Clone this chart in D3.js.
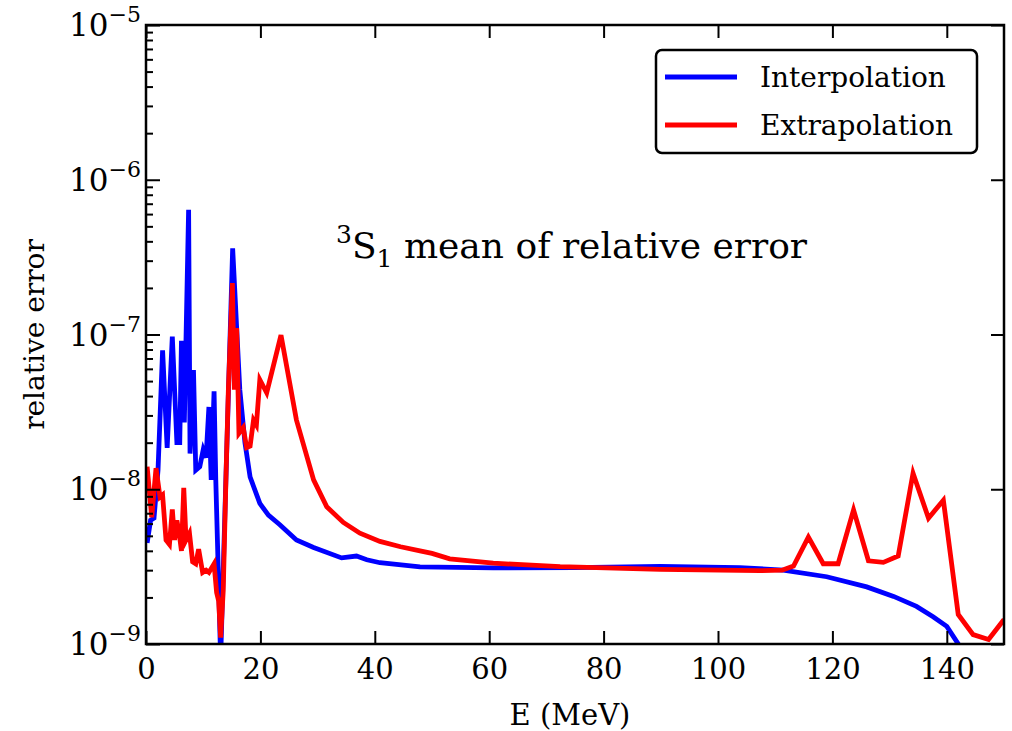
<!DOCTYPE html>
<html><head><meta charset="utf-8">
<script src="https://cdn.jsdelivr.net/npm/d3@7"></script>
<style>body{margin:0;background:#fff}svg{display:block}</style>
</head><body>
<svg id="c" width="1012" height="731"></svg>
<script>
const interpE   = [0.2,0.8,1.4,2.1,2.9,3.7,4.6,5.4,5.9,6.2,6.7,7.45,7.7,8.3,8.7,9.4,10.0,10.5,11.0,11.4,11.9,12.2,13.05,15.15,15.85,16.4,17.3,18.2,19.9,21.4,23.4,26.3,29.3,34.2,36.8,38.6,40.9,47.9,60.7,75,89.9,103.8,111.4,119,126,130.7,134.7,137.6,140,142,144];
const interpErr = [4.5e-9,6.3e-9,6.5e-9,1.33e-8,7.9e-8,1.85e-8,9.7e-8,2.0e-8,2.0e-8,9.1e-8,2.7e-8,6.4e-7,1.7e-8,5.9e-8,1.33e-8,1.4e-8,1.8e-8,1.6e-8,3.4e-8,1.15e-8,4.3e-8,1.15e-8,8e-10,3.6e-7,1.1e-7,4.4e-8,2.0e-8,1.2e-8,8.1e-9,6.8e-9,5.9e-9,4.7e-9,4.2e-9,3.6e-9,3.7e-9,3.5e-9,3.35e-9,3.15e-9,3.1e-9,3.12e-9,3.17e-9,3.12e-9,3.0e-9,2.72e-9,2.34e-9,2.03e-9,1.75e-9,1.5e-9,1.3e-9,1.0e-9,7e-10];
const extrapE   = [0.2,1.0,1.75,2.45,2.9,3.5,4.1,4.6,5.0,5.4,5.8,6.2,6.6,7.0,7.6,8.15,8.7,9.2,9.9,10.5,11.0,11.9,12.35,12.7,13.05,13.5,14.0,14.4,15.1,15.45,15.85,16.25,17.0,17.6,18.2,18.8,19.3,19.9,21.1,23.6,26.3,29.3,31.6,34.5,37.4,40.9,44.5,47.9,50.0,53.1,60.7,72.4,89.9,107.3,111.2,113.2,115.8,118.4,121.0,123.7,126.3,128.9,131.5,134.1,136.8,139.4,142,144.6,147.3,150];
const extrapErr = [1.4e-8,6.6e-9,1.37e-8,8.9e-9,9.2e-9,4.7e-9,4.4e-9,7.4e-9,4.7e-9,6.3e-9,5.2e-9,4.0e-9,1.02e-8,4.7e-9,5.2e-9,3.4e-9,3.3e-9,4.1e-9,2.9e-9,3.0e-9,2.9e-9,3.3e-9,2.15e-9,1.9e-9,1.1e-9,2.2e-9,1.27e-8,4.4e-8,2.15e-7,4.4e-8,1.1e-7,2.3e-8,2.5e-8,1.86e-8,1.9e-8,2.8e-8,2.6e-8,5.1e-8,4.2e-8,9.9e-8,2.8e-8,1.15e-8,7.7e-9,6.1e-9,5.2e-9,4.6e-9,4.25e-9,4.0e-9,3.85e-9,3.55e-9,3.33e-9,3.16e-9,3.04e-9,2.98e-9,3.0e-9,3.19e-9,4.9e-9,3.3e-9,3.3e-9,7.35e-9,3.45e-9,3.37e-9,3.7e-9,1.27e-8,6.5e-9,8.5e-9,1.55e-9,1.15e-9,1.07e-9,1.44e-9];
const xTicks = [0,20,40,60,80,100,120,140];
const yTickExps = [-9,-8,-7,-6,-5];
const seriesNames = ["Interpolation","Extrapolation"];
const seriesColors = ["#0000ff","#ff0000"];

const FONT = "'DejaVu Serif', serif";
const L=146,R=1004,T=25,B=644;
const svg = d3.select("#c");
const x = d3.scaleLinear().domain([0,150]).range([L,R]);
const y = d3.scaleLog().domain([1e-9,1e-5]).range([B,T]);

svg.append("defs").append("clipPath").attr("id","clip")
  .append("rect").attr("x",L).attr("y",T).attr("width",R-L).attr("height",B-T);

const line = d3.line().x(d=>x(d[0])).y(d=>y(d[1]));
const series = [d3.zip(interpE, interpErr), d3.zip(extrapE, extrapErr)];
const g = svg.append("g").attr("clip-path","url(#clip)");
series.forEach((s,i)=>{
  g.append("path").datum(s).attr("d",line).attr("fill","none")
   .attr("stroke",seriesColors[i]).attr("stroke-width",4.8).attr("stroke-linejoin","miter");
});

// axes (ticks inward)
const axB = d3.axisBottom(x).tickValues(xTicks).tickSize(-13).tickPadding(14).tickFormat(d3.format("d"));
const axT = d3.axisTop(x).tickValues(xTicks).tickSize(-13).tickFormat("");
const majors = yTickExps.map(e=>Math.pow(10,e));
const minors = [];
for (let e=-9;e<-5;e++) for (let m=2;m<=9;m++) minors.push(m*Math.pow(10,e));
const axL = d3.axisLeft(y).tickValues(majors).tickSize(-14).tickFormat("");
const axLm = d3.axisLeft(y).tickValues(minors).tickSize(-7).tickFormat("");
const axR = d3.axisRight(y).tickValues(majors).tickSize(-13).tickFormat("");

function style(sel){
  sel.select(".domain").remove();
  sel.selectAll(".tick line").attr("stroke","#000").attr("stroke-width",2);
  sel.selectAll("text").attr("font-family",FONT).attr("font-size",29).attr("fill","#000");
}
svg.append("g").attr("transform",`translate(0,${B})`).call(axB).call(style)
   .selectAll("text").attr("dy","0.71em");
svg.append("g").attr("transform",`translate(0,${T})`).call(axT).call(style);
svg.append("g").attr("transform",`translate(${L},0)`).call(axL).call(style);
svg.append("g").attr("transform",`translate(${L},0)`).call(axLm).call(style);
svg.append("g").attr("transform",`translate(${R},0)`).call(axR).call(style);

// y tick labels 10^k
yTickExps.forEach(e=>{
  const t = svg.append("text").attr("x",L-5).attr("y",y(Math.pow(10,e))+11)
    .attr("text-anchor","end").attr("font-family",FONT).attr("font-size",31);
  t.append("tspan").text("10");
  t.append("tspan").attr("dy",-14).attr("font-size",22).text("\u2212"+Math.abs(e));
});

// frame
svg.append("rect").attr("x",L).attr("y",T).attr("width",R-L).attr("height",B-T)
  .attr("fill","none").attr("stroke","#000").attr("stroke-width",2.5);

// axis labels
svg.append("text").attr("x",570).attr("y",725).attr("text-anchor","middle")
  .attr("font-family",FONT).attr("font-size",29).text("E (MeV)");
svg.append("text").attr("transform",`translate(44,${(T+B)/2}) rotate(-90)`)
  .attr("text-anchor","middle").attr("font-family",FONT).attr("font-size",28).text("relative error");

// title
const tt = svg.append("text").attr("x",336).attr("y",258).attr("font-family",FONT).attr("font-size",36);
tt.append("tspan").attr("font-size",25).attr("dy",-15).text("3");
tt.append("tspan").attr("dy",15).text("S");
tt.append("tspan").attr("font-size",25).attr("dy",9).text("1");
tt.append("tspan").attr("dy",-9).text(" mean of relative error");

// legend
const lg = svg.append("g");
lg.append("rect").attr("x",656).attr("y",50).attr("width",321).attr("height",103)
  .attr("rx",6).attr("fill","#fff").attr("stroke","#000").attr("stroke-width",2.5);
seriesNames.forEach((n,i)=>{
  const yy = 77 + i*48;
  lg.append("line").attr("x1",665).attr("x2",737).attr("y1",yy).attr("y2",yy)
    .attr("stroke",seriesColors[i]).attr("stroke-width",4.8);
  lg.append("text").attr("x",760).attr("y",yy+10).attr("font-family",FONT).attr("font-size",28).text(n);
});
</script>
</body></html>
